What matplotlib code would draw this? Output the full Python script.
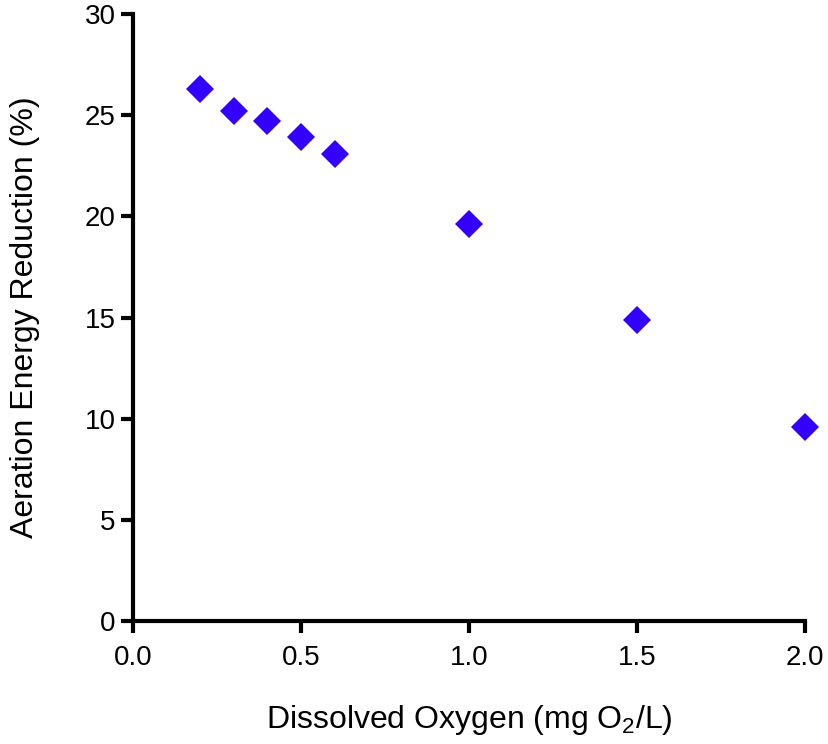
import matplotlib
matplotlib.use("Agg")
from matplotlib import pyplot as plt

plt.rcParams['font.family'] = ['Liberation Sans', 'DejaVu Sans']
plt.rcParams['mathtext.default'] = 'regular'

# dissolved oxygen set point (mg O2/L) vs aeration energy reduction (%)
do_levels = [0.2, 0.3, 0.4, 0.5, 0.6, 1.0, 1.5, 2.0]
energy_reduction = [26.3, 25.2, 24.7, 23.9, 23.1, 19.6, 14.9, 9.6]

x_ticks = [0.0, 0.5, 1.0, 1.5, 2.0]
y_ticks = [0, 5, 10, 15, 20, 25, 30]

fig = plt.figure(figsize=(8.29, 7.44), dpi=100)
ax = fig.add_axes([0.1604, 0.1653, 0.971 - 0.1604, 0.9812 - 0.1653])

ax.plot(do_levels, energy_reduction, 'D', color='#3300ff', markersize=14.3,
        markeredgewidth=0, clip_on=False)

ax.set_xlim(0, 2.0)
ax.set_ylim(0, 30)
ax.set_xticks(x_ticks)
ax.set_xticklabels(["%.1f" % t for t in x_ticks])
ax.set_yticks(y_ticks)

for s in ['top', 'right']:
    ax.spines[s].set_visible(False)
for s in ['left', 'bottom']:
    ax.spines[s].set_linewidth(3)

ax.tick_params(direction='out', length=8.5, width=3, labelsize=20)
ax.tick_params(axis='x', pad=9)
ax.tick_params(axis='y', pad=4)

ax.set_xlabel("Dissolved Oxygen (mg O$_2$/L)", fontsize=23, labelpad=23)
ax.set_ylabel("Aeration Energy Reduction (%)", fontsize=23, labelpad=32)

fig.savefig("out.png", dpi=100)
